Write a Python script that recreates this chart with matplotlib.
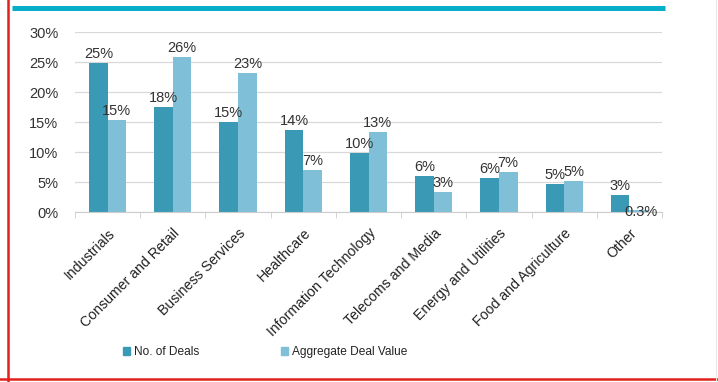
import matplotlib
matplotlib.use("Agg")
import matplotlib.pyplot as plt
from matplotlib.lines import Line2D
from matplotlib.patches import Patch
from matplotlib.ticker import FixedLocator, PercentFormatter
import numpy as np

plt.rcParams['font.family'] = ['Liberation Sans', 'DejaVu Sans']

sectors = ["Industrials", "Consumer and Retail", "Business Services", "Healthcare",
           "Information Technology", "Telecoms and Media", "Energy and Utilities",
           "Food and Agriculture", "Other"]
num_deals = [24.8, 17.5, 15.0, 13.6, 9.9, 6.0, 5.6, 4.6, 2.8]
deal_value = [15.3, 25.8, 23.2, 7.0, 13.4, 3.3, 6.6, 5.2, 0.3]

dark = "#3a9ab5"
light = "#7fc0d8"

fig = plt.figure(figsize=(7.18, 3.82), dpi=100)
ax = fig.add_axes([75 / 718, 1 - 212 / 382, 587 / 718, 180 / 382])

x = np.arange(len(sectors))
w = 0.285
b1 = ax.bar(x - w / 2, num_deals, w, color=dark)
b2 = ax.bar(x + w / 2, deal_value, w, color=light)


def pct(v):
    return f"{v:.1f}%" if v < 1 else f"{v:.0f}%"


for bars in (b1, b2):
    for r in bars:
        v = r.get_height()
        cx = r.get_x() + r.get_width() / 2
        if v < 1:
            ax.annotate(pct(v), (cx, v), xytext=(2, -1), textcoords="offset points",
                        ha="center", va="center", fontsize=10.5, color="#333333")
        else:
            ax.annotate(pct(v), (cx, v), xytext=(0, 1.5), textcoords="offset points",
                        ha="center", va="bottom", fontsize=10.5, color="#333333")

ax.set_xlim(-0.5, len(sectors) - 0.5)
ax.set_ylim(0, 30)
ax.set_yticks(np.arange(0, 31, 5))
ax.yaxis.set_major_formatter(PercentFormatter(decimals=0))
ax.grid(axis="y", color="#d9d9d9", linewidth=0.9)
ax.set_axisbelow(True)
for s in ("top", "right", "left"):
    ax.spines[s].set_visible(False)
ax.spines["bottom"].set_color("#cccccc")

ax.set_xticks(x)
ax.set_xticklabels(sectors, rotation=45, ha="right", rotation_mode="anchor",
                   fontsize=10.2, color="#222222")
ax.xaxis.set_minor_locator(FixedLocator(np.arange(-0.5, len(sectors), 1)))
ax.tick_params(axis="x", which="major", length=0, pad=10)
ax.tick_params(axis="x", which="minor", length=4, color="#cccccc")
ax.tick_params(axis="y", length=0, labelsize=10.5, labelcolor="#333333", pad=12)

handles = [Patch(color=dark), Patch(color=light)]
fig.legend(handles, ["No. of Deals", "Aggregate Deal Value"], ncol=2,
           loc="center left", bbox_to_anchor=(112 / 718, 1 - 352 / 382),
           frameon=False, fontsize=8.6, labelcolor="#222222",
           handlelength=0.6, handleheight=0.6, handletextpad=0.3,
           columnspacing=6.9)

# frame lines around the panel
fig.add_artist(Line2D([8 / 718, 8 / 718], [0, 1], color="#e3201b", linewidth=1.8))
fig.add_artist(Line2D([0, 1], [3 / 382, 3 / 382], color="#e3201b", linewidth=1.8))
fig.add_artist(Line2D([716 / 718, 716 / 718], [0, 1], color="#e8e8e8", linewidth=0.8))
fig.add_artist(Line2D([12 / 718, 665 / 718], [1 - 7.5 / 382, 1 - 7.5 / 382],
                      color="#06aec9", linewidth=3.6, solid_capstyle="butt"))

fig.savefig("out.png", dpi=100)
